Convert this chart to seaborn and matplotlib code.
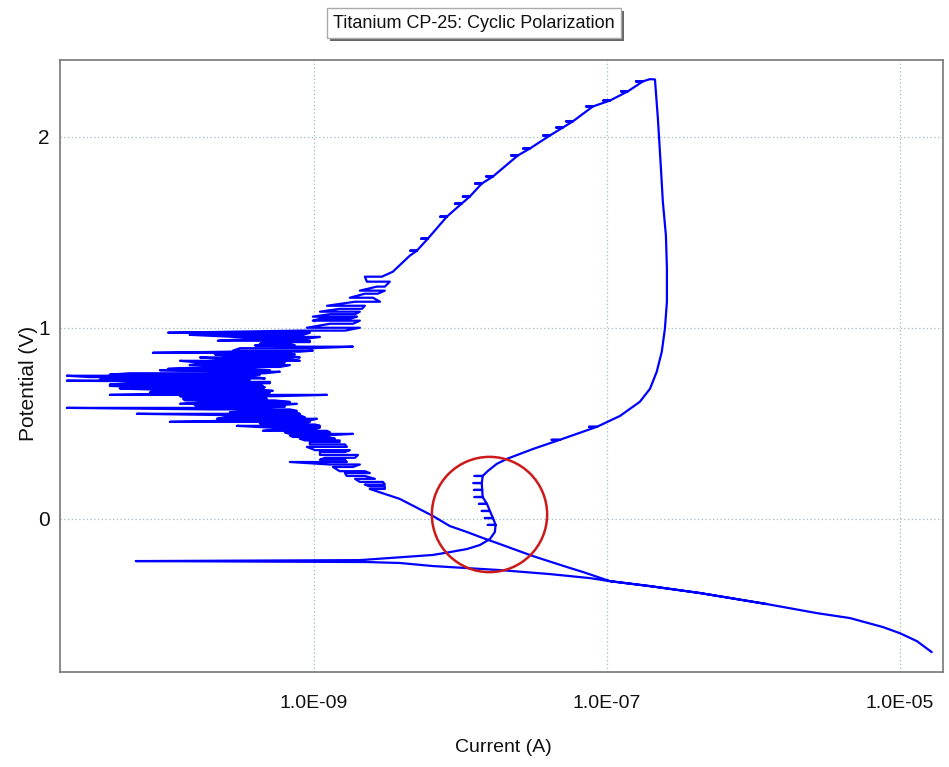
import numpy as np
import pandas as pd
import matplotlib
matplotlib.use("Agg")
import matplotlib.pyplot as plt
from matplotlib.patches import Rectangle
from matplotlib.ticker import FixedLocator, LogLocator, MultipleLocator, FuncFormatter, NullFormatter
import seaborn as sns

# ---- scan data: potential (V) and current (A) ----
# forward scan, cathodic branch down to the corrosion potential
fwd_cath_v = [-0.696, -0.639, -0.597, -0.565, -0.518, -0.492, -0.445, -0.387, -0.351,
              -0.325, -0.309, -0.288, -0.267, -0.246, -0.230, -0.225, -0.220]
fwd_cath_i = [1.65e-5, 1.31e-5, 1.00e-5, 7.66e-6, 4.56e-6, 2.71e-6, 1.24e-6, 4.31e-7, 1.97e-7,
              1.05e-7, 7.65e-8, 4.08e-8, 1.86e-8, 6.49e-9, 3.86e-9, 2.30e-9, 6.09e-11]

# forward scan, anodic branch up to the vertex (repeated potentials are small current dips)
fwd_anod_v = [-0.215, -0.188, -0.173, -0.157, -0.136, -0.105, -0.068,
              -0.031, -0.031, -0.031, 0.005, 0.005, 0.005, 0.042, 0.042, 0.042,
              0.079, 0.079, 0.079, 0.115, 0.115, 0.115, 0.152, 0.152, 0.152,
              0.188, 0.188, 0.188, 0.225, 0.225, 0.225,
              0.251, 0.288, 0.314, 0.366, 0.414, 0.414, 0.414, 0.482, 0.482, 0.482,
              0.539, 0.613, 0.681, 0.770, 0.874, 0.995, 1.136, 1.309, 1.482, 1.660,
              1.832, 2.094, 2.298]
fwd_anod_i = [2.06e-9, 6.49e-9, 8.48e-9, 1.11e-8, 1.36e-8, 1.59e-8, 1.72e-8,
              1.74e-8, 1.54e-8, 1.74e-8, 1.67e-8, 1.47e-8, 1.67e-8, 1.59e-8, 1.40e-8, 1.59e-8,
              1.52e-8, 1.34e-8, 1.52e-8, 1.42e-8, 1.25e-8, 1.42e-8, 1.41e-8, 1.24e-8, 1.41e-8,
              1.40e-8, 1.23e-8, 1.40e-8, 1.42e-8, 1.25e-8, 1.42e-8,
              1.54e-8, 1.77e-8, 2.07e-8, 3.13e-8, 4.77e-8, 4.20e-8, 4.77e-8, 8.55e-8, 7.55e-8, 8.55e-8,
              1.23e-7, 1.68e-7, 1.97e-7, 2.19e-7, 2.37e-7, 2.49e-7, 2.57e-7, 2.57e-7, 2.53e-7, 2.41e-7,
              2.34e-7, 2.23e-7, 2.13e-7]

# reverse scan, upper part (each potential listed three times carries a small dip)
rev_top_v = [2.300,
             2.288, 2.288, 2.288, 2.236, 2.236, 2.236, 2.188, 2.188, 2.188,
             2.157, 2.157, 2.157, 2.079, 2.079, 2.079, 2.047, 2.047, 2.047,
             2.005, 2.005, 2.005, 1.937, 1.937, 1.937, 1.901, 1.901, 1.901,
             1.791, 1.791, 1.791, 1.754, 1.754, 1.754, 1.686, 1.686, 1.686,
             1.649, 1.649, 1.649, 1.581, 1.581, 1.581, 1.466, 1.466, 1.466,
             1.403, 1.403, 1.403, 1.377, 1.293]
rev_top_i = [1.97e-7,
             1.76e-7, 1.58e-7, 1.76e-7, 1.39e-7, 1.25e-7, 1.39e-7, 1.05e-7, 9.45e-8, 1.05e-7,
             8.02e-8, 7.22e-8, 8.02e-8, 5.86e-8, 5.27e-8, 5.86e-8, 5.01e-8, 4.51e-8, 5.01e-8,
             4.08e-8, 3.67e-8, 4.08e-8, 2.98e-8, 2.68e-8, 2.98e-8, 2.47e-8, 2.22e-8, 2.47e-8,
             1.67e-8, 1.50e-8, 1.67e-8, 1.40e-8, 1.26e-8, 1.40e-8, 1.16e-8, 1.04e-8, 1.16e-8,
             1.02e-8, 9.18e-9, 1.02e-8, 8.09e-9, 7.28e-9, 8.09e-9, 6.00e-9, 5.40e-9, 6.00e-9,
             5.05e-9, 4.55e-9, 5.05e-9, 4.52e-9, 3.46e-9]

# reverse scan, noisy region: potential step with its low / high current excursion
noise_v = [1.267, 1.241, 1.215, 1.194, 1.178, 1.157, 1.136, 1.115, 1.099, 1.084,
           1.071, 1.058, 1.047, 1.037, 1.021, 1.000,
           0.985, 0.974, 0.963, 0.952, 0.942, 0.932, 0.925, 0.916, 0.908, 0.901,
           0.893, 0.880, 0.875, 0.869, 0.861, 0.853, 0.845, 0.835, 0.827, 0.820,
           0.812, 0.805, 0.795, 0.785, 0.778, 0.770, 0.762, 0.755, 0.749, 0.742,
           0.735, 0.729, 0.723, 0.717, 0.710, 0.703, 0.696, 0.689, 0.682, 0.676,
           0.670, 0.662, 0.655, 0.649, 0.642, 0.635, 0.628, 0.620, 0.612, 0.602,
           0.595, 0.588, 0.581, 0.573, 0.565, 0.558, 0.550, 0.542, 0.532, 0.524,
           0.516, 0.508, 0.500, 0.494, 0.487, 0.478, 0.470, 0.461, 0.453, 0.445,
           0.437, 0.429, 0.420, 0.411, 0.403, 0.390, 0.377, 0.360, 0.350, 0.335,
           0.320, 0.310, 0.298, 0.285, 0.272, 0.250, 0.240, 0.225, 0.210, 0.194,
           0.180, 0.170, 0.157]
noise_lo = [2.23e-9, 2.30e-9, 2.69e-9, 2.06e-9, 2.23e-9, 1.76e-9, 1.91e-9, 1.23e-9, 1.50e-9, 1.10e-9,
            1.29e-9, 9.84e-10, 1.10e-9, 9.84e-10, 1.29e-9, 8.96e-10,
            8.02e-10, 1.01e-10, 1.42e-10, 2.89e-10, 3.66e-10, 2.21e-10, 4.63e-10, 4.28e-10, 3.96e-10, 8.02e-10,
            3.13e-10, 2.80e-10, 2.67e-10, 7.96e-11, 2.11e-10, 2.67e-10, 1.67e-10, 2.47e-10, 1.22e-10, 1.54e-10,
            1.72e-10, 1.42e-10, 1.95e-10, 1.01e-10, 8.89e-11, 3.78e-10, 5.55e-11, 4.05e-11, 2.06e-11, 2.96e-11,
            4.74e-11, 3.46e-11, 2.06e-11, 2.05e-10, 5.55e-11, 4.05e-11, 4.05e-11, 6.49e-11, 4.74e-11, 8.89e-11,
            7.96e-11, 7.60e-11, 1.13e-10, 4.05e-11, 1.22e-10, 1.67e-10, 1.28e-10, 1.32e-10, 1.95e-10, 1.22e-10,
            1.54e-10, 2.11e-10, 2.06e-11, 1.95e-10, 3.49e-10, 2.67e-10, 6.19e-11, 3.13e-10, 2.47e-10, 2.18e-10,
            3.66e-10, 1.04e-10, 4.28e-10, 4.63e-10, 2.98e-10, 5.01e-10, 5.86e-10, 4.49e-10, 6.34e-10, 6.86e-10,
            6.86e-10, 7.19e-10, 8.02e-10, 8.68e-10, 9.39e-10, 9.39e-10, 8.96e-10, 1.02e-9, 1.10e-9, 1.10e-9,
            1.19e-9, 1.10e-9, 6.86e-10, 1.29e-9, 1.35e-9, 1.50e-9, 1.63e-9, 1.68e-9, 1.91e-9, 2.06e-9,
            2.23e-9, 2.41e-9, 2.41e-9]
noise_hi = [2.91e-9, 3.30e-9, 3.05e-9, 3.05e-9, 2.73e-9, 2.53e-9, 2.83e-9, 2.23e-9, 2.13e-9, 2.06e-9,
            1.91e-9, 1.97e-9, 1.76e-9, 2.06e-9, 1.85e-9, 2.06e-9,
            1.63e-9, 9.39e-10, 8.41e-10, 1.10e-9, 8.68e-10, 9.39e-10, 9.39e-10, 6.86e-10, 7.42e-10, 1.85e-9,
            9.39e-10, 9.84e-10, 8.02e-10, 6.14e-10, 7.42e-10, 6.86e-10, 8.02e-10, 6.86e-10, 8.02e-10, 6.34e-10,
            6.14e-10, 6.86e-10, 5.86e-10, 3.66e-10, 5.01e-10, 5.86e-10, 4.63e-10, 4.28e-10, 2.18e-10, 3.96e-10,
            4.63e-10, 3.66e-10, 2.05e-10, 5.01e-10, 5.01e-10, 3.96e-10, 4.49e-10, 4.63e-10, 4.28e-10, 3.96e-10,
            5.25e-10, 5.01e-10, 4.28e-10, 1.23e-9, 5.42e-10, 4.63e-10, 4.78e-10, 5.42e-10, 6.86e-10, 7.66e-10,
            5.86e-10, 6.34e-10, 4.08e-10, 6.86e-10, 7.66e-10, 7.42e-10, 8.02e-10, 8.02e-10, 8.68e-10, 1.05e-9,
            9.39e-10, 9.39e-10, 8.68e-10, 1.02e-9, 1.10e-9, 1.10e-9, 1.02e-9, 1.23e-9, 1.29e-9, 1.85e-9,
            1.19e-9, 1.23e-9, 1.39e-9, 1.50e-9, 1.50e-9, 1.63e-9, 1.68e-9, 1.76e-9, 1.63e-9, 2.00e-9,
            1.91e-9, 1.63e-9, 1.68e-9, 2.06e-9, 1.85e-9, 2.23e-9, 2.41e-9, 2.23e-9, 2.61e-9, 2.96e-9,
            3.05e-9, 3.05e-9, 3.05e-9]

# reverse scan, lower part rejoining the cathodic branch
rev_low_v = [0.105, 0.016, -0.037, -0.068, -0.099, -0.131, -0.194, -0.251, -0.277, -0.325, -0.351, -0.387, -0.445]
rev_low_i = [3.86e-9, 6.49e-9, 8.48e-9, 1.11e-8, 1.42e-8, 1.86e-8, 3.13e-8, 5.33e-8, 6.86e-8, 1.05e-7, 1.97e-7, 4.31e-7, 1.24e-6]

title = "Titanium CP-25: Cyclic Polarization"
x_label = "Current (A)"
y_label = "Potential (V)"
x_major = [1e-9, 1e-7, 1e-5]
pit_center = (1.57e-8, 0.024)

# ---- assemble the scan in acquisition order ----
noise_pts_v, noise_pts_i = [], []
for k, (vv, lo, hi) in enumerate(zip(noise_v, noise_lo, noise_hi)):
    pair = (hi, lo) if k % 2 == 0 else (lo, hi)
    noise_pts_v += [vv, vv]
    noise_pts_i += list(pair)

pot = np.concatenate([fwd_cath_v, fwd_anod_v, rev_top_v, noise_pts_v, rev_low_v])
cur = np.concatenate([fwd_cath_i, fwd_anod_i, rev_top_i, noise_pts_i, rev_low_i])
df = pd.DataFrame({"current": cur, "potential": pot})

# ---- style ----
sns.set_style("white")
plt.rcParams["font.family"] = ["Liberation Sans", "DejaVu Sans"]

W, H = 949, 767
fig = plt.figure(figsize=(W / 100, H / 100), dpi=100)
ax = fig.add_axes([60 / W, 1 - 672 / H, (943 - 60) / W, (672 - 60) / H])

ax.set_xscale("log")
sns.lineplot(data=df, x="current", y="potential", sort=False, estimator=None,
             color="#0000FF", lw=1.6, ax=ax, zorder=3)

# highlighted region
ax.plot([pit_center[0]], [pit_center[1]], marker="o", ms=83, mfc="none",
        mec="#CC1A1A", mew=1.8, zorder=4)

ax.set_xlim(1.85e-11, 1.97e-5)
ax.set_ylim(-0.80, 2.40)

ax.xaxis.set_major_locator(FixedLocator(x_major))
ax.xaxis.set_major_formatter(FuncFormatter(lambda x, p: f"{x:.1E}"))
ax.xaxis.set_minor_locator(LogLocator(base=10, subs=np.arange(1, 10), numticks=60))
ax.xaxis.set_minor_formatter(NullFormatter())
ax.yaxis.set_major_locator(MultipleLocator(1))
ax.yaxis.set_major_formatter(FuncFormatter(lambda y, p: f"{y:.0f}"))
ax.yaxis.set_minor_locator(MultipleLocator(0.5))

ax.tick_params(axis="both", which="major", direction="inout", length=5, width=1,
               color="#666666", labelsize=14, pad=14, labelcolor="#111111")
ax.tick_params(axis="both", which="minor", direction="inout", length=3, width=0.8,
               color="#666666")
ax.tick_params(axis="y", which="major", labelsize=15, pad=5)

ax.grid(True, which="major", linestyle=(0, (1, 2)), color="#9dbdbd", lw=0.9)
for s in ax.spines.values():
    s.set_color("#777777")
    s.set_linewidth(1.2)
    s.set_visible(True)

ax.set_xlabel(x_label, fontsize=14, color="#111111")
ax.xaxis.set_label_coords((503 - 60) / 883, (672 - 748) / 612)
ax.xaxis.label.set_va("center")
ax.set_ylabel(y_label, fontsize=15, color="#111111")
ax.yaxis.set_label_coords((28 - 60) / 883, (672 - 383) / 612)
ax.yaxis.label.set_va("center")

# title in a framed box with a drop shadow
t = fig.text(474 / W, 1 - 23 / H, title, ha="center", va="center", fontsize=13,
             color="#111111", zorder=5,
             bbox=dict(boxstyle="square,pad=0.35", fc="white", ec="#aaaaaa", lw=1))
fig.canvas.draw()
bb = t.get_bbox_patch().get_window_extent()
fig.add_artist(Rectangle((bb.x0 + 3, bb.y0 - 3), bb.width, bb.height, transform=None,
                         fc="#666666", ec="none", zorder=4))

fig.savefig("out.png", dpi=100)
